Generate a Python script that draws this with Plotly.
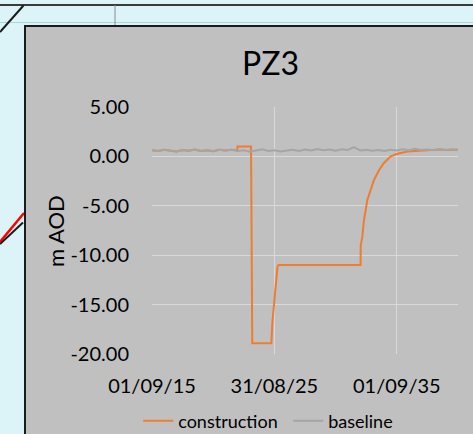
import plotly.graph_objects as go

# tick positions / labels
x_tick_dates = ["2015-09-01", "2025-08-31", "2035-09-01"]
x_tick_labels = ["01/09/15", "31/08/25", "01/09/35"]
y_tick_vals = [-20, -15, -10, -5, 0, 5]
y_tick_labels = ["-20.00", "-15.00", "-10.00", "-5.00", "0.00", "5.00"]

# baseline water level (m AOD), half-yearly readings
baseline_dates = [
    "2015-09-01", "2016-03-01", "2016-09-01", "2017-03-01", "2017-09-01", "2018-03-01",
    "2018-09-01", "2019-03-01", "2019-09-01", "2020-03-01", "2020-09-01", "2021-03-01",
    "2021-09-01", "2022-03-01", "2022-09-01", "2023-03-01", "2023-09-01", "2024-03-01",
    "2024-09-01", "2025-03-01", "2025-09-01", "2026-03-01", "2026-09-01", "2027-03-01",
    "2027-09-01", "2028-03-01", "2028-09-01", "2029-03-01", "2029-09-01", "2030-03-01",
    "2030-09-01", "2031-03-01", "2031-09-01", "2032-03-01", "2032-09-01", "2033-03-01",
    "2033-09-01", "2034-03-01", "2034-09-01", "2035-03-01", "2035-09-01", "2036-03-01",
    "2036-09-01", "2037-03-01", "2037-09-01", "2038-03-01", "2038-09-01", "2039-03-01",
    "2039-09-01", "2040-03-01", "2040-09-01",
]
baseline_vals = [
    0.62, 0.55, 0.66, 0.58, 0.50, 0.64, 0.57, 0.70, 0.55, 0.61, 0.52, 0.66,
    0.59, 0.68, 0.55, 0.63, 0.48, 0.60, 0.71, 0.54, 0.62, 0.50, 0.58, 0.67,
    0.55, 0.70, 0.60, 0.74, 0.62, 0.69, 0.58, 0.72, 0.65, 0.93, 0.60, 0.66,
    0.57, 0.64, 0.55, 0.68, 0.60, 0.72, 0.63, 0.76, 0.66, 0.70, 0.62, 0.75,
    0.66, 0.73, 0.68,
]

# construction scenario (m AOD)
construction_dates = [
    "2015-09-01", "2016-03-01", "2016-09-01", "2017-03-01", "2017-09-01", "2018-03-01",
    "2018-09-01", "2019-03-01", "2019-09-01", "2020-03-01", "2020-09-01", "2021-03-01",
    "2021-09-01", "2022-03-01", "2022-08-20", "2022-08-27", "2023-10-03", "2023-10-10",
    "2023-10-25", "2023-11-10", "2025-06-01", "2025-06-05", "2025-07-01", "2025-08-01",
    "2025-09-01", "2025-10-01", "2025-11-01", "2025-12-01", "2025-12-29", "2032-09-16",
    "2032-09-20", "2032-11-06", "2032-12-24", "2033-02-13", "2033-04-05", "2033-07-13",
    "2033-10-19", "2034-03-18", "2034-08-15", "2035-03-03", "2035-09-21", "2036-07-16",
    "2037-08-18", "2038-03-01", "2038-09-01", "2039-03-01", "2039-09-01", "2040-03-01",
    "2040-09-01",
]
construction_vals = [
    0.62, 0.55, 0.66, 0.58, 0.50, 0.64, 0.57, 0.70, 0.55, 0.61, 0.52, 0.66,
    0.59, 0.68, 0.60, 1.00, 1.00, -1.70, -11.00, -18.90, -18.90, -17.90, -16.90, -15.70,
    -14.50, -13.30, -12.20, -11.20, -11.00, -11.00, -9.00, -8.15, -6.50, -5.30, -4.40, -3.40,
    -2.40, -1.40, -0.67, 0.00, 0.27, 0.50, 0.60, 0.65, 0.62, 0.70, 0.66, 0.70, 0.68,
]

W, H = 473, 434
ML, MR, MT, MB = 152, 15, 107, 80
PW, PH = W - ML - MR, H - MT - MB
FONT = "Lato"


def px(x):
    return (x - ML) / PW


def py(y):
    return (H - MB - y) / PH


fig = go.Figure()
fig.add_trace(go.Scatter(
    x=construction_dates, y=construction_vals, name="construction",
    mode="lines", line=dict(color="#ED7D31", width=2),
))
fig.add_trace(go.Scatter(
    x=baseline_dates, y=baseline_vals, name="baseline",
    mode="lines", line=dict(color="#A5A5A5", width=2),
))

# worksheet bits behind the chart + the chart area frame
line_black = dict(color="#1a1a1a", width=2)
shapes = [
    dict(type="line", x0=px(0), x1=px(W), y0=py(5), y1=py(5), line=dict(color="#3a3a3a", width=2)),
    dict(type="line", x0=px(0), x1=px(W), y0=py(22.5), y1=py(22.5), line=dict(color="#A9D6DC", width=1)),
    dict(type="line", x0=px(115), x1=px(115), y0=py(5), y1=py(25), line=dict(color="#8a8a8a", width=1)),
    dict(type="line", x0=px(23.5), x1=px(0), y0=py(5.5), y1=py(32), line=line_black),
    dict(type="line", x0=px(0), x1=px(24), y0=py(242), y1=py(213), line=dict(color="#FF0000", width=2.5)),
    dict(type="line", x0=px(0), x1=px(23), y0=py(244), y1=py(222.5), line=line_black),
    dict(type="rect", x0=px(25), x1=px(W + 20), y0=py(26), y1=py(H + 20),
         fillcolor="#C0C0C0", line=line_black),
]
for s in shapes:
    s.update(xref="paper", yref="paper", layer="below")

fig.update_layout(
    width=W, height=H,
    margin=dict(l=ML, r=MR, t=MT, b=MB, pad=0, autoexpand=False),
    paper_bgcolor="#DCF3F7",
    plot_bgcolor="#C0C0C0",
    font=dict(family=FONT, color="#000000"),
    shapes=shapes,
    showlegend=True,
    legend=dict(
        orientation="h", x=-0.045, y=py(421), xanchor="left", yanchor="middle",
        font=dict(size=18, family=FONT), bgcolor="rgba(0,0,0,0)",
        itemwidth=30, traceorder="normal", entrywidth=105,
    ),
    annotations=[
        dict(text="PZ3", x=px(270), y=py(62.5), xref="paper", yref="paper",
             xanchor="center", yanchor="middle", showarrow=False,
             font=dict(size=32, family=FONT)),
        dict(text="m AOD", x=px(55), y=py(231), xref="paper", yref="paper",
             xanchor="center", yanchor="middle", showarrow=False, textangle=-90,
             font=dict(size=22, family=FONT)),
    ],
)
fig.update_xaxes(
    type="date", range=["2015-09-01", "2040-09-01"],
    tickmode="array", tickvals=x_tick_dates, ticktext=x_tick_labels,
    tickfont=dict(size=20, family=FONT), ticklabelstandoff=18,
    showgrid=False, showline=False, zeroline=False, ticks="",
    minor=dict(tickmode="array", tickvals=x_tick_dates[1:], showgrid=True,
               gridcolor="#D9D9D9", gridwidth=1),
)
fig.update_yaxes(
    range=[-20, 5], tickmode="array", tickvals=y_tick_vals, ticktext=y_tick_labels,
    tickfont=dict(size=20, family=FONT), ticklabelstandoff=22,
    showgrid=False, showline=False, zeroline=False, ticks="",
    minor=dict(tickmode="array", tickvals=y_tick_vals[1:], showgrid=True,
               gridcolor="#D9D9D9", gridwidth=1),
)

fig.write_html("out.html", config={"displayModeBar": False},
               post_script="document.body.style.margin='0';")
